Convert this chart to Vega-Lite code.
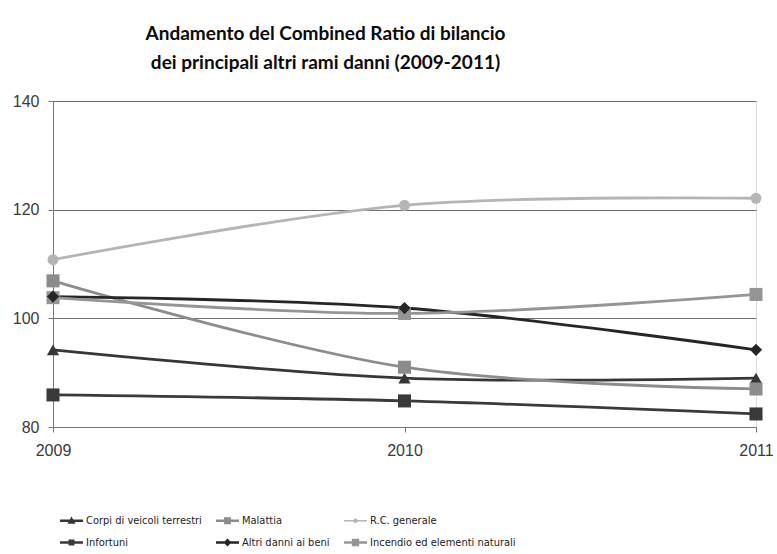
{
  "$schema": "https://vega.github.io/schema/vega-lite/v6.json",
  "width": 703,
  "height": 326,
  "autosize": {"type": "none"},
  "padding": {"left": 53, "top": 101, "right": 21, "bottom": 127},
  "background": "white",
  "title": {
    "text": ["Andamento del Combined Ratio di bilancio", "dei principali altri rami danni (2009-2011)"],
    "font": "Lato",
    "fontSize": 19,
    "fontWeight": "bold",
    "color": "#0a0a0a",
    "lineHeight": 29,
    "anchor": "middle",
    "frame": "group",
    "dx": -79,
    "offset": 20
  },
  "data": {
    "values": [
      {"anno": 2009, "serie": "Corpi di veicoli terrestri", "valore": 94.2},
      {"anno": 2010, "serie": "Corpi di veicoli terrestri", "valore": 89.0},
      {"anno": 2011, "serie": "Corpi di veicoli terrestri", "valore": 89.0},
      {"anno": 2009, "serie": "Malattia", "valore": 106.9},
      {"anno": 2010, "serie": "Malattia", "valore": 91.0},
      {"anno": 2011, "serie": "Malattia", "valore": 87.0},
      {"anno": 2009, "serie": "R.C. generale", "valore": 110.8},
      {"anno": 2010, "serie": "R.C. generale", "valore": 120.8},
      {"anno": 2011, "serie": "R.C. generale", "valore": 122.1},
      {"anno": 2009, "serie": "Infortuni", "valore": 85.9},
      {"anno": 2010, "serie": "Infortuni", "valore": 84.8},
      {"anno": 2011, "serie": "Infortuni", "valore": 82.4},
      {"anno": 2009, "serie": "Altri danni ai beni", "valore": 104.0},
      {"anno": 2010, "serie": "Altri danni ai beni", "valore": 101.9},
      {"anno": 2011, "serie": "Altri danni ai beni", "valore": 94.2},
      {"anno": 2009, "serie": "Incendio ed elementi naturali", "valore": 103.8},
      {"anno": 2010, "serie": "Incendio ed elementi naturali", "valore": 100.9},
      {"anno": 2011, "serie": "Incendio ed elementi naturali", "valore": 104.4}
    ]
  },
  "encoding": {
    "x": {
      "field": "anno",
      "type": "ordinal",
      "scale": {"type": "point", "padding": 0},
      "axis": {
        "title": null,
        "labelAngle": 0,
        "grid": false,
        "domain": true,
        "domainColor": "#777777",
        "tickColor": "#777777",
        "tickSize": 5,
        "labelFont": "Liberation Sans",
        "labelFontSize": 16,
        "labelColor": "#3a3a3a",
        "labelPadding": 10
      }
    },
    "y": {
      "field": "valore",
      "type": "quantitative",
      "scale": {"domain": [80, 140], "nice": false, "zero": false},
      "axis": {
        "title": null,
        "values": [80, 100, 120, 140],
        "grid": true,
        "gridColor": "#6f6f6f",
        "gridWidth": 1,
        "domain": true,
        "domainColor": "#777777",
        "tickColor": "#777777",
        "tickSize": 5,
        "labelFont": "Liberation Sans",
        "labelFontSize": 16,
        "labelColor": "#3a3a3a",
        "labelPadding": 9
      }
    },
    "color": {
      "field": "serie",
      "type": "nominal",
      "scale": {
        "domain": ["Corpi di veicoli terrestri", "Malattia", "R.C. generale", "Infortuni", "Altri danni ai beni", "Incendio ed elementi naturali"],
        "range": ["#363636", "#8c8c8c", "#b5b5b5", "#3a3a3a", "#262626", "#959595"]
      },
      "legend": {
        "orient": "none",
        "legendX": 7,
        "legendY": 408,
        "direction": "horizontal",
        "columns": 3,
        "gridAlign": "each",
        "columnPadding": 14,
        "rowPadding": 5,
        "title": null,
        "symbolSize": 529,
        "symbolStrokeWidth": 0,
        "symbolOpacity": 1,
        "labelFont": "Liberation Sans Narrow, DejaVu Sans Condensed, Liberation Sans",
        "labelFontSize": 11,
        "labelColor": "#222222",
        "labelOffset": 3,
        "labelLimit": 200
      }
    }
  },
  "layer": [
    {
      "mark": {"type": "line", "interpolate": "catmull-rom", "strokeWidth": 2.8}
    },
    {
      "transform": [{"filter": "datum.serie == 'Corpi di veicoli terrestri'"}],
      "mark": {"type": "point", "filled": true, "opacity": 1, "shape": "triangle-up", "size": 150}
    },
    {
      "transform": [{"filter": "datum.serie == 'Malattia' || datum.serie == 'Infortuni' || datum.serie == 'Incendio ed elementi naturali'"}],
      "mark": {"type": "point", "filled": true, "opacity": 1, "shape": "square", "size": 170}
    },
    {
      "transform": [{"filter": "datum.serie == 'R.C. generale'"}],
      "mark": {"type": "point", "filled": true, "opacity": 1, "shape": "circle", "size": 120}
    },
    {
      "transform": [{"filter": "datum.serie == 'Altri danni ai beni'"}],
      "mark": {"type": "point", "filled": true, "opacity": 1, "shape": "diamond", "size": 150}
    },
    {
      "transform": [{"filter": "datum.valore < 0"}],
      "mark": {"type": "point", "filled": true, "opacity": 1},
      "encoding": {
        "shape": {
          "field": "serie",
          "type": "nominal",
          "scale": {
            "domain": ["Corpi di veicoli terrestri", "Malattia", "R.C. generale", "Infortuni", "Altri danni ai beni", "Incendio ed elementi naturali"],
            "range": [
              "M-1,-0.1H1V0.1H-1Z M0,-0.38L0.36,0.26H-0.36Z",
              "M-1,-0.1H1V0.1H-1Z M-0.3,-0.3H0.3V0.3H-0.3Z",
              "M-1,-0.07H1V0.07H-1Z M-0.2,0A0.2,0.2 0 1,1 0.2,0A0.2,0.2 0 1,1 -0.2,0Z",
              "M-1,-0.1H1V0.1H-1Z M-0.26,-0.26H0.26V0.26H-0.26Z",
              "M-1,-0.1H1V0.1H-1Z M0,-0.34L0.34,0L0,0.34L-0.34,0Z",
              "M-1,-0.1H1V0.1H-1Z M-0.32,-0.32H0.32V0.32H-0.32Z"
            ]
          }
        }
      }
    }
  ]
}
